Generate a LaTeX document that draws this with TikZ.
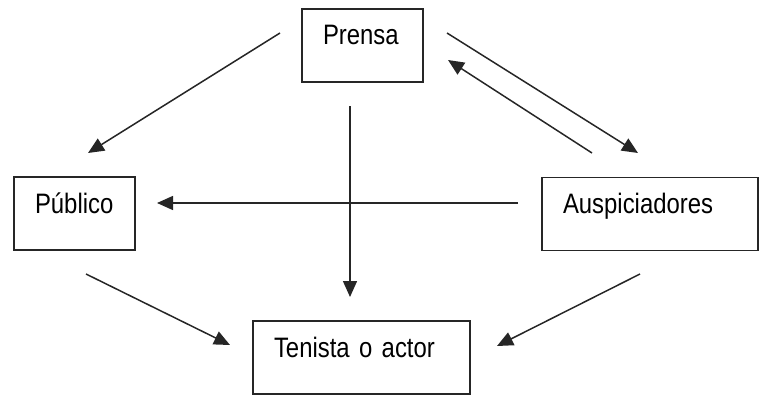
\documentclass[tikz,border=0pt]{standalone}
\usepackage{fontspec}
\setmainfont{Liberation Sans}[FakeStretch=0.85]
\usetikzlibrary{arrows.meta}
\tikzset{
  caja/.style={draw=black!85,line width=1pt,inner xsep=0.42cm,inner ysep=0pt,
    text height=0.72cm,text depth=0.74cm,align=left,font=\fontsize{16}{19}\selectfont},
  flecha/.style={draw=black!85,line width=0.85pt,-{Triangle[length=0.32cm,width=0.28cm]}}
}
\begin{document}
\begin{tikzpicture}[x=0.02cm,y=-0.02cm]
\useasboundingbox (0,0) rectangle (760,395);
\node[caja,text width=1.58cm] (prensa) at (362.5,45.5) {Prensa};
\node[caja,text width=1.58cm] (publico) at (74.5,213.5) {Público};
\node[caja,text width=3.5cm] (tenista) at (361.5,357.5) {Tenista o actor};
\node[caja,text width=3.48cm] (ausp) at (650,214) {Auspiciadores};
\coordinate (pp1) at (280,33);   \coordinate (pp2) at (88,153);
\coordinate (pa1) at (447,33);   \coordinate (pa2) at (638,153);
\coordinate (ap1) at (592,153);  \coordinate (ap2) at (448,60);
\coordinate (pt1) at (350,106);  \coordinate (pt2) at (350,297);
\coordinate (au1) at (518,203);  \coordinate (au2) at (157,203);
\coordinate (pu1) at (86,274);   \coordinate (pu2) at (230,345);
\coordinate (at1) at (640,274);  \coordinate (at2) at (497,346);
\draw[flecha] (pp1) -- (pp2);
\draw[flecha] (pa1) -- (pa2);
\draw[flecha] (ap1) -- (ap2);
\draw[flecha] (pt1) -- (pt2);
\draw[flecha] (au1) -- (au2);
\draw[flecha] (pu1) -- (pu2);
\draw[flecha] (at1) -- (at2);
\end{tikzpicture}
\end{document}
